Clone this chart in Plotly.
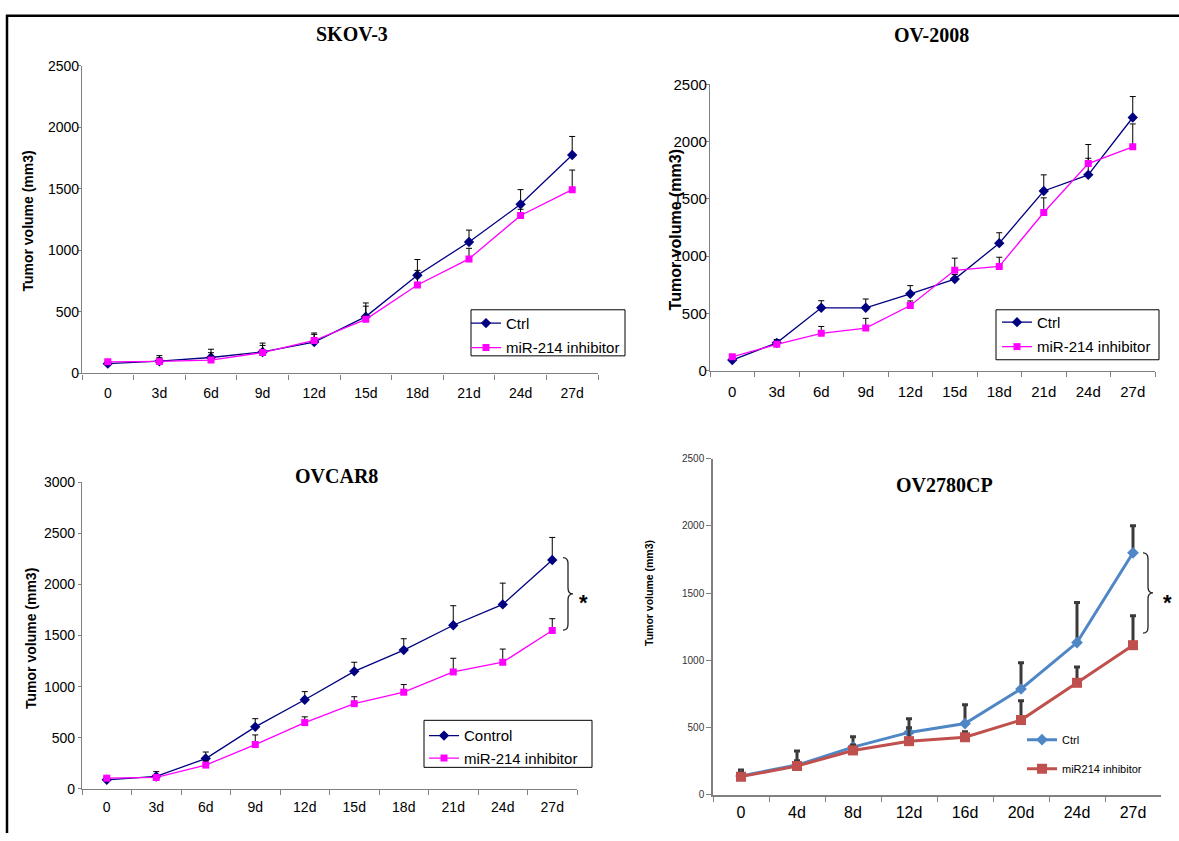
import plotly.graph_objects as go

# ---------------- data ----------------
days_a = ["0", "3d", "6d", "9d", "12d", "15d", "18d", "21d", "24d", "27d"]
days_b = ["0", "4d", "8d", "12d", "16d", "20d", "24d", "27d"]

skov_ctrl = [80, 100, 130, 175, 255, 462, 798, 1069, 1375, 1775]
skov_ctrl_err = [20, 45, 67, 72, 74, 111, 128, 96, 119, 151]
skov_inh = [95, 98, 109, 170, 268, 440, 719, 931, 1284, 1494]
skov_inh_err = [15, 30, 60, 58, 50, 107, 119, 86, 50, 159]

ov2008_ctrl = [91, 242, 548, 548, 670, 799, 1113, 1569, 1710, 2211]
ov2008_ctrl_err = [20, 29, 62, 77, 72, 40, 91, 141, 145, 183]
ov2008_inh = [120, 229, 325, 371, 568, 876, 910, 1381, 1809, 1955]
ov2008_inh_err = [20, 20, 60, 85, 40, 106, 80, 128, 166, 200]

ovcar8_ctrl = [89, 122, 297, 607, 872, 1150, 1358, 1601, 1805, 2240]
ovcar8_ctrl_err = [20, 47, 64, 80, 80, 89, 111, 191, 208, 220]
ovcar8_inh = [105, 112, 233, 434, 649, 834, 946, 1144, 1239, 1550]
ovcar8_inh_err = [15, 20, 40, 94, 56, 68, 75, 134, 129, 115]

ov2780_ctrl = [140, 221, 355, 464, 530, 787, 1132, 1800]
ov2780_ctrl_err = [44, 105, 77, 102, 140, 195, 299, 202]
ov2780_inh = [135, 214, 330, 399, 428, 556, 833, 1113]
ov2780_inh_err = [30, 40, 40, 100, 40, 144, 117, 219]

titles = ["SKOV-3", "OV-2008", "OVCAR8", "OV2780CP"]
ytitle = "Tumor volume (mm3)"

# ---------------- layout helpers (page pixels -> paper) ----------------
W, H = 1179, 841


def fx(px):
    return px / W


def fy(py):
    return 1 - py / H


SANS = "Liberation Sans, Arial, sans-serif"
SERIF = "Liberation Serif, Times New Roman, serif"

fig = go.Figure()


def err(arr, color="black", thick=1, width=3):
    return dict(type="data", array=arr, arrayminus=[0] * len(arr), symmetric=False,
                color=color, thickness=thick, width=width, visible=True)


NAVY, MAG = "#000080", "#FF00FF"
BLUE, RED = "#4F86C6", "#C0504D"

series = [
    # (x, y, err, name, color, symbol, msize, lw, axis, legend, group, err color, err thickness)
    (days_a, skov_ctrl, skov_ctrl_err, "Ctrl", NAVY, "diamond", 8, 1.3, "", "legend", "a"),
    (days_a, skov_inh, skov_inh_err, "miR-214 inhibitor", MAG, "square", 7, 1.3, "", "legend", "b"),
    (days_a, ov2008_ctrl, ov2008_ctrl_err, "Ctrl", NAVY, "diamond", 8, 1.3, "2", "legend2", "c"),
    (days_a, ov2008_inh, ov2008_inh_err, "miR-214 inhibitor", MAG, "square", 7, 1.3, "2", "legend2", "d"),
    (days_a, ovcar8_ctrl, ovcar8_ctrl_err, "Control", NAVY, "diamond", 8, 1.3, "3", "legend3", "e"),
    (days_a, ovcar8_inh, ovcar8_inh_err, "miR-214 inhibitor", MAG, "square", 7, 1.3, "3", "legend3", "f"),
    (days_b, ov2780_ctrl, ov2780_ctrl_err, "Ctrl", BLUE, "diamond", 9, 3, "4", "legend4", "g"),
    (days_b, ov2780_inh, ov2780_inh_err, "miR214 inhibitor", RED, "square", 10, 3, "4", "legend4", "h"),
]
for (x, y, e, name, col, sym, ms, lw, ax, lg, grp) in series:
    heavy = ax == "4"
    fig.add_trace(go.Scatter(
        x=x, y=y, name=name, mode="lines+markers",
        line=dict(color=col, width=lw),
        marker=dict(symbol=sym, size=ms, color=col),
        error_y=err(e, "#3a3a3a", 3, 3) if heavy else err(e),
        xaxis="x" + ax, yaxis="y" + ax, legend=lg, legendgroup=grp))

# panel geometry in page pixels: (x_left, x_right, y_top, y_bottom, ymax, n_cat, xtick size, ytick size)
panels = [
    (82, 598, 58, 372, 2500, 10, 14, 14),
    (710, 1155, 77, 369, 2500, 10, 15, 15),
    (82, 577, 483, 796, 3000, 10, 14, 14),
    (713, 1161, 459, 802, 2500, 8, 16, 10),
]
AX = "#808080"
layout = dict(width=W, height=H, margin=dict(l=0, r=0, t=0, b=0),
              paper_bgcolor="white", plot_bgcolor="white", showlegend=True,
              font=dict(family=SANS, color="black"))
for i, (xl, xr, yt, yb, ymax, n, xs, ys) in enumerate(panels):
    sfx = "" if i == 0 else str(i + 1)
    layout["xaxis" + sfx] = dict(
        domain=[fx(xl), fx(xr)], anchor="y" + sfx, type="category",
        range=[-0.5, n - 0.5], tickson="boundaries", ticks="outside", ticklen=5,
        tickcolor=AX, showline=True, linecolor=AX, linewidth=1.2 if i < 3 else 1.5,
        showgrid=False, zeroline=False, tickfont=dict(size=xs, family=SANS),
        ticklabelstandoff=7 if i < 2 else (5 if i == 2 else 2))
    layout["yaxis" + sfx] = dict(
        domain=[fy(yb), fy(yt)], anchor="x" + sfx, range=[0, ymax], dtick=500,
        ticks="outside", ticklen=3 if i < 3 else 5, tickcolor=AX, showline=True, linecolor=AX,
        linewidth=1.2 if i < 3 else 1.5, showgrid=False, zeroline=False,
        tickfont=dict(size=ys, family=SANS, color="black" if i < 3 else "#333"),
        ticklabelstandoff=-4 if i < 2 else 0)

# legends: borderless plotly legends, boxes drawn as shapes
leg = dict(borderwidth=0, bgcolor="rgba(0,0,0,0)", font=dict(size=15, family=SANS),
           xanchor="left", yanchor="top", itemwidth=30, traceorder="grouped")
layout["legend"] = dict(leg, x=fx(466), y=fy(304), tracegroupgap=2)
layout["legend2"] = dict(leg, x=fx(997), y=fy(303), tracegroupgap=2)
layout["legend3"] = dict(leg, x=fx(424), y=fy(725), tracegroupgap=0)
layout["legend4"] = dict(leg, font=dict(size=11, family=SANS), x=fx(1022), y=fy(731),
                         tracegroupgap=10)
legend_boxes = [(471, 307, 625, 354), (996, 307, 1159, 358), (424, 726, 592, 774)]

annotations = []
title_pos = [(352, 26, 20), (931, 27, 20), (336, 477, 20), (944, 486, 20)]
for t, (x, y, s) in zip(titles, title_pos):
    annotations.append(dict(text="<b>%s</b>" % t, x=fx(x), y=fy(y), xref="paper", yref="paper",
                            showarrow=False, xanchor="center", yanchor="middle",
                            font=dict(family=SERIF, size=s, color="black")))
ytitle_pos = [(28, 217, 14), (675, 225, 16), (31, 643, 14), (649, 596, 10.5)]
for (x, y, s) in ytitle_pos:
    annotations.append(dict(text="<b>%s</b>" % ytitle, x=fx(x), y=fy(y), xref="paper", yref="paper",
                            showarrow=False, textangle=-90, xanchor="center", yanchor="middle",
                            font=dict(family=SANS, size=s, color="black")))
for (x, y) in [(583, 606), (1167, 606)]:
    annotations.append(dict(text="<b>*</b>", x=fx(x), y=fy(y), xref="paper", yref="paper",
                            showarrow=False, xanchor="center", yanchor="middle",
                            font=dict(family=SANS, size=22, color="black")))
layout["annotations"] = annotations


def brace(x0, yt, yb, w=10, r=6):
    xm = x0 + w / 2
    ym = (yt + yb) / 2
    pts = [
        ("M", [(x0, yt)]),
        ("Q", [(xm, yt), (xm, yt + r)]),
        ("L", [(xm, ym - r)]),
        ("Q", [(xm, ym), (x0 + w, ym)]),
        ("Q", [(xm, ym), (xm, ym + r)]),
        ("L", [(xm, yb - r)]),
        ("Q", [(xm, yb), (x0, yb)]),
    ]
    s = ""
    for cmd, ps in pts:
        s += cmd + " " + " ".join("%.5f,%.5f" % (fx(a), fy(b)) for a, b in ps) + " "
    return s.strip()


shapes = [
    dict(type="line", xref="paper", yref="paper", x0=fx(6), x1=1, y0=fy(7), y1=fy(7),
         line=dict(color="black", width=2.5)),
    dict(type="line", xref="paper", yref="paper", x0=fx(7), x1=fx(7), y0=fy(6), y1=0,
         line=dict(color="black", width=2.5)),
    dict(type="path", xref="paper", yref="paper", path=brace(563, 560, 634),
         line=dict(color="#222", width=1.3)),
    dict(type="path", xref="paper", yref="paper", path=brace(1143, 555, 637),
         line=dict(color="#222", width=1.3)),
]
for (x0, y0, x1, y1) in legend_boxes:
    shapes.append(dict(type="rect", xref="paper", yref="paper", x0=fx(x0), x1=fx(x1),
                       y0=fy(y1), y1=fy(y0), line=dict(color="black", width=1),
                       fillcolor="white", layer="above"))
layout["shapes"] = shapes

fig.update_layout(**layout)
fig.write_html("out.html", config={"displayModeBar": False},
               post_script="document.body.style.margin='0';")
